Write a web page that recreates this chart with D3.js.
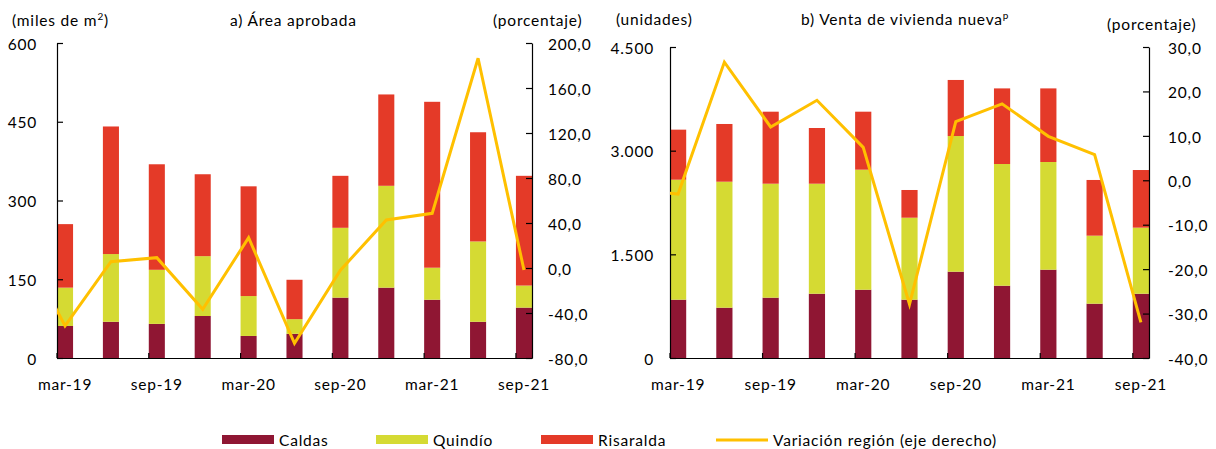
<!DOCTYPE html>
<html>
<head>
<meta charset="utf-8">
<script src="https://cdn.jsdelivr.net/npm/d3@7/dist/d3.min.js"></script>
<style>
  body { margin: 0; background: #fff; }
  svg text { font-family: Lato, 'Open Sans', sans-serif; font-size: 15.5px; fill: #000; letter-spacing: 0.8px; }
  .axis path, .axis line { stroke: #000; stroke-width: 1.2px; }
</style>
</head>
<body>
<div id="chart"></div>
<script>
const QUARTERS = ['mar-19','jun-19','sep-19','dic-19','mar-20','jun-20','sep-20','dic-20','mar-21','jun-21','sep-21'];
const LABELED = ['mar-19','sep-19','mar-20','sep-20','mar-21','sep-21'];

// a) Área aprobada (miles de m2)
const AREA_CALDAS    = [61, 69, 65, 80, 42, 46, 115, 134, 111, 69, 96];
const AREA_QUINDIO   = [73, 129, 103, 114, 76, 28, 133, 194, 61, 153, 42];
const AREA_RISARALDA = [121, 243, 201, 156, 209, 75, 99, 174, 316, 208, 209];
const AREA_VARIACION = [-51.5, 5.6, 9.2, -36.7, 27, -67, -2, 42.7, 48.6, 186.4, -1.8];
const AREA_PREV = 27;   // dic-18, only visible as a clipped stub
const AREA_TICKS = [0, 150, 300, 450, 600];
const AREA_PCT_TICKS = [-80, -40, 0, 40, 80, 120, 160, 200];

// b) Venta de vivienda nueva (unidades)
const VENTA_CALDAS    = [844, 728, 873, 930, 988, 844, 1249, 1046, 1278, 786, 930];
const VENTA_QUINDIO   = [1736, 1823, 1649, 1592, 1737, 1186, 1963, 1761, 1558, 984, 956];
const VENTA_RISARALDA = [724, 835, 1042, 806, 839, 401, 811, 1094, 1065, 806, 834];
const VENTA_VARIACION = [-3.1, 26.6, 12.0, 18.0, 7.4, -27.9, 13.2, 17.2, 9.9, 5.8, -32.0];
const VENTA_PREV = -2.1;
const VENTA_TICKS = [0, 1500, 3000, 4500];
const VENTA_PCT_TICKS = [-40, -30, -20, -10, 0, 10, 20, 30];

const SERIES = ['Caldas', 'Quindío', 'Risaralda'];
const COLORS = {Caldas: '#8F1633', 'Quindío': '#D5DA33', Risaralda: '#E43A28'};
const LINE_COLOR = '#FFC000';
const LINE_LABEL = 'Variación región (eje derecho)';

const locale = d3.formatLocale({decimal: ',', thousands: '.', grouping: [3], currency: ['$', ''], minus: '-'});
const fmtInt = locale.format(',.0f');
const fmtPct = locale.format('.1f');

const svg = d3.select('#chart').append('svg')
    .attr('width', 1216)
    .attr('height', 449);

function drawPanel(p){
    const g = svg.append('g');

    const x = d3.scaleBand()
        .domain(QUARTERS)
        .range([p.left, p.right])
        .paddingInner(0.65)
        .paddingOuter(0);

    const y = d3.scaleLinear().domain(p.yDomain).range([p.bottom, p.top]);
    const y2 = d3.scaleLinear().domain(p.y2Domain).range([p.bottom, p.top]);

    const table = QUARTERS.map((q, i) => ({
        q: q, Caldas: p.caldas[i], 'Quindío': p.quindio[i], Risaralda: p.risaralda[i]
    }));
    const stacked = d3.stack().keys(SERIES)(table);

    g.selectAll('g.layer').data(stacked).enter()
        .append('g')
        .attr('class', 'layer')
        .attr('fill', d => COLORS[d.key])
        .selectAll('rect').data(d => d).enter()
        .append('rect')
            .attr('x', d => x(d.data.q))
            .attr('width', x.bandwidth())
            .attr('y', d => y(d[1]))
            .attr('height', d => y(d[0]) - y(d[1]));

    // left axis
    g.append('g')
        .attr('class', 'axis')
        .attr('transform', `translate(${p.left},0)`)
        .call(d3.axisLeft(y).tickValues(p.ticks).tickFormat(fmtInt)
            .tickSizeInner(-6).tickSizeOuter(0).tickPadding(p.leftPad))
        .call(a => a.selectAll('text').attr('dy', '0.4em'));

    // right axis
    g.append('g')
        .attr('class', 'axis')
        .attr('transform', `translate(${p.right},0)`)
        .call(d3.axisRight(y2).tickValues(p.pctTicks).tickFormat(fmtPct)
            .tickSizeInner(-6).tickSizeOuter(0).tickPadding(p.rightPad))
        .call(a => a.selectAll('text').attr('dy', '0.4em'));

    // bottom axis: labels centred on bars, tick marks at band edges
    const xAxis = g.append('g')
        .attr('class', 'axis')
        .attr('transform', `translate(0,${p.bottom})`)
        .call(d3.axisBottom(x).tickValues(LABELED).tickSize(0).tickPadding(21));
    xAxis.selectAll('.tick line').remove();
    xAxis.selectAll('line.mark').data(LABELED).enter()
        .append('line')
        .attr('class', 'mark')
        .attr('x1', d => x(d)).attr('x2', d => x(d))
        .attr('y1', 0).attr('y2', -5);

    // variation line (clipped to plot area)
    const clipId = 'clip-' + p.id;
    svg.append('clipPath').attr('id', clipId)
        .append('rect')
        .attr('x', p.left).attr('y', 0)
        .attr('width', p.right - p.left).attr('height', 449);

    const pts = [{cx: x(QUARTERS[0]) + x.bandwidth() / 2 - x.step(), v: p.prev}]
        .concat(QUARTERS.map((q, i) => ({cx: x(q) + x.bandwidth() / 2, v: p.variacion[i]})));

    g.append('path')
        .datum(pts)
        .attr('clip-path', `url(#${clipId})`)
        .attr('fill', 'none')
        .attr('stroke', LINE_COLOR)
        .attr('stroke-width', 3)
        .attr('stroke-linejoin', 'miter')
        .attr('d', d3.line().x(d => d.cx).y(d => y2(d.v)));

    // titles
    p.titles.forEach(t => {
        const txt = g.append('text').attr('x', t.x).attr('y', t.y).text(t.text);
        if (t.sup) {
            txt.append('tspan').attr('dy', -6).attr('font-size', '10px').text(t.sup);
            if (t.after) txt.append('tspan').attr('dy', 6).text(t.after);
        }
    });
}

drawPanel({
    id: 'a', left: 57, right: 532, top: 43, bottom: 358,
    yDomain: [0, 600], y2Domain: [-80, 200], ticks: AREA_TICKS, pctTicks: AREA_PCT_TICKS,
    leftPad: 20, rightPad: 16,
    caldas: AREA_CALDAS, quindio: AREA_QUINDIO, risaralda: AREA_RISARALDA,
    variacion: AREA_VARIACION, prev: AREA_PREV,
    titles: [
        {x: 12, y: 26, text: '(miles de m', sup: '2', after: ')'},
        {x: 230, y: 26, text: 'a) Área aprobada'},
        {x: 493, y: 26, text: '(porcentaje)'}
    ]
});

drawPanel({
    id: 'b', left: 670, right: 1149, top: 47, bottom: 358,
    yDomain: [0, 4500], y2Domain: [-40, 30], ticks: VENTA_TICKS, pctTicks: VENTA_PCT_TICKS,
    leftPad: 16, rightPad: 19,
    caldas: VENTA_CALDAS, quindio: VENTA_QUINDIO, risaralda: VENTA_RISARALDA,
    variacion: VENTA_VARIACION, prev: VENTA_PREV,
    titles: [
        {x: 616, y: 25, text: '(unidades)'},
        {x: 801, y: 25, text: 'b) Venta de vivienda nueva', sup: 'p'},
        {x: 1107, y: 30, text: '(porcentaje)'}
    ]
});

// legend
const legendItems = [
    {name: 'Caldas', x: 222},
    {name: 'Quindío', x: 376},
    {name: 'Risaralda', x: 541},
    {name: LINE_LABEL, x: 716, line: true}
];
const legend = svg.append('g').attr('transform', 'translate(0,440)');
legendItems.forEach(item => {
    if (item.line) {
        legend.append('line')
            .attr('x1', item.x).attr('x2', item.x + 52)
            .attr('y1', 0).attr('y2', 0)
            .attr('stroke', LINE_COLOR).attr('stroke-width', 3);
    } else {
        legend.append('rect')
            .attr('x', item.x).attr('y', -5)
            .attr('width', 52).attr('height', 9)
            .attr('fill', COLORS[item.name]);
    }
    legend.append('text')
        .attr('x', item.x + 57)
        .attr('y', 0)
        .attr('dy', '0.36em')
        .text(item.name);
});
</script>
</body>
</html>
